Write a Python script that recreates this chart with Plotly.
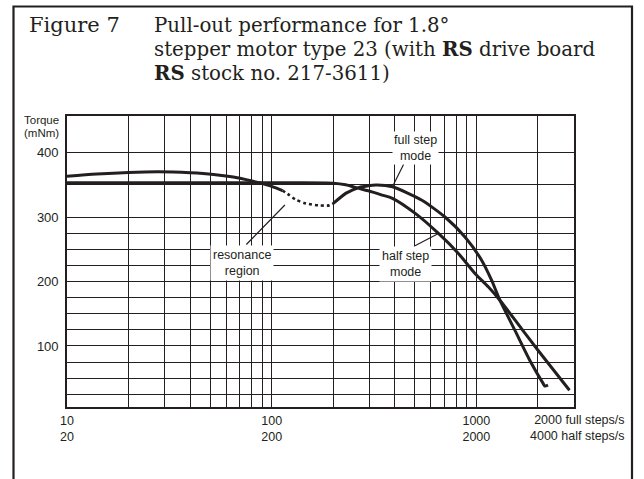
import math
import plotly.graph_objects as go

# ---------------- data ----------------
# full step mode (first solid part, resonance dip (dotted), second solid part)
full_a_x = [10, 14, 20, 28, 40, 52, 65, 75, 87, 100, 113]
full_a_y = [363, 366.5, 369, 370, 368.5, 366, 362, 358, 353, 347.5, 341]
full_res_x = [113, 120, 131, 147, 171, 191, 200]
full_res_y = [341, 335.5, 327, 321, 318, 318, 321]
full_b_x = [200, 230, 258, 268, 323, 389, 542, 703, 880, 1061, 1187, 1303, 1542, 1823, 2119, 2160, 2240]
full_b_y = [321, 336.6, 344, 346, 349.5, 346.8, 326, 300, 269, 233, 202, 171, 124.5, 78, 42, 38, 39.5]

# half step mode
half_x = [10, 50, 100, 200, 230, 258, 309, 346, 389, 503, 653, 817, 985, 1143, 1303, 1661, 2000, 2851]
half_y = [353, 353, 353, 352.5, 350, 345.5, 339, 334, 329, 305.6, 274.5, 243.5, 212.4, 191.7, 171, 127, 93.4, 31.3]

# axis ticks / grid
x_grid = [10, 20, 30, 40, 50, 60, 70, 80, 90, 100, 200, 300, 400, 500, 600, 700, 800, 900, 1000, 2000, 3000]
x_labels = {10: "10<br>20", 100: "100<br>200", 1000: "1000<br>2000"}
y_grid = [25, 50, 75, 100, 125, 150, 175, 200, 225, 250, 275, 300, 350, 400]
y_labels = {100: "100", 200: "200", 300: "300", 400: "400"}

INK = "#231f20"
SANS = "Liberation Sans, Arial, sans-serif"
SERIF = "DejaVu Serif, serif"

W, H = 644, 479
ML, MR, MT, MB = 67, 70, 116, 72
PW, PH = W - ML - MR, H - MT - MB


def px(xp):
    return (xp - ML) / PW


def py(yp):
    return (MT + PH - yp) / PH


fig = go.Figure()
line = dict(color=INK, width=3)
fig.add_trace(go.Scatter(x=full_a_x, y=full_a_y, mode="lines", line=dict(**line, shape="spline", smoothing=0.8), hoverinfo="skip"))
fig.add_trace(go.Scatter(x=full_res_x, y=full_res_y, mode="lines", line=dict(color=INK, width=2.6, dash="dot", shape="spline", smoothing=0.8), hoverinfo="skip"))
fig.add_trace(go.Scatter(x=full_b_x, y=full_b_y, mode="lines", line=dict(**line, shape="spline", smoothing=0.6), hoverinfo="skip"))
fig.add_trace(go.Scatter(x=half_x, y=half_y, mode="lines", line=dict(**line, shape="spline", smoothing=0.8), hoverinfo="skip"))

ann = []


def ptext(text, xp, yp, size, family, xanchor="left", **kw):
    d = dict(text=text, x=px(xp), y=py(yp), xref="paper", yref="paper", showarrow=False,
             xanchor=xanchor, yanchor="middle", font=dict(family=family, size=size, color=INK))
    d.update(kw)
    ann.append(d)


# leader lines (drawn first so label boxes sit on top)
def leader(x, y, ax, ay):
    ann.append(dict(x=math.log10(x), y=y, xref="x", yref="y", ax=ax, ay=ay, text="",
                    showarrow=True, arrowhead=0, arrowwidth=1.2, arrowcolor=INK))


leader(389, 346.8, 12, -24)
leader(116, 318.6, -40, 41)
leader(653, 274.5, -25, 13)

# curve labels
ptext("full step<br>mode", 415.5, 148, 12.5, SANS, xanchor="center", bgcolor="white", borderpad=1)
ptext("resonance<br>region", 241.5, 263, 12.5, SANS, xanchor="center", bgcolor="white", borderpad=2)
ptext("half step<br>mode", 405, 263.5, 12.5, SANS, xanchor="center", bgcolor="white", borderpad=2)

# title
ptext("Figure 7", 27, 24.5, 21, SERIF)
ptext("Pull-out performance for 1.8°", 152, 25.5, 19.8, SERIF)
ptext("stepper motor type 23 (with <b>RS</b> drive board", 152, 49.5, 19.8, SERIF)
ptext("<b>RS</b> stock no. 217-3611)", 152, 72.5, 19.8, SERIF)

# axis titles / extra tick text
ptext("Torque", 61, 120.5, 11.5, SANS, xanchor="right")
ptext("(mNm)", 61, 132.5, 11.5, SANS, xanchor="right")
ptext("2000 full steps/s<br>4000 half steps/s", 627, 428, 12.5, SANS, xanchor="right", align="right")

fig.update_layout(
    width=W, height=H,
    margin=dict(l=ML, r=MR, t=MT, b=MB, pad=0),
    paper_bgcolor="white", plot_bgcolor="white",
    showlegend=False,
    annotations=ann,
    shapes=[dict(type="rect", xref="paper", yref="paper",
                 x0=px(13.5), x1=px(632), y0=py(500), y1=py(6.5),
                 line=dict(color=INK, width=2.2), layer="below")],
)
fig.update_xaxes(type="log", range=[1, math.log10(3000)],
                 tickmode="array", tickvals=x_grid,
                 ticktext=[x_labels.get(v, "") for v in x_grid],
                 showgrid=True, gridcolor=INK, gridwidth=1.2,
                 showline=True, linecolor=INK, linewidth=1.6, mirror=True,
                 ticks="", ticklabelstandoff=1, zeroline=False,
                 tickfont=dict(family=SANS, size=12.5, color=INK))
fig.update_yaxes(range=[5.4, 456.6], tickmode="array", tickvals=y_grid,
                 ticktext=[y_labels.get(v, "") for v in y_grid],
                 showgrid=True, gridcolor=INK, gridwidth=1.2,
                 showline=True, linecolor=INK, linewidth=1.6, mirror=True,
                 ticks="", ticklabelstandoff=4, zeroline=False,
                 tickfont=dict(family=SANS, size=13, color=INK))

fig.write_html("out.html", config={"displayModeBar": False},
               post_script="document.body.style.margin='0px';")
